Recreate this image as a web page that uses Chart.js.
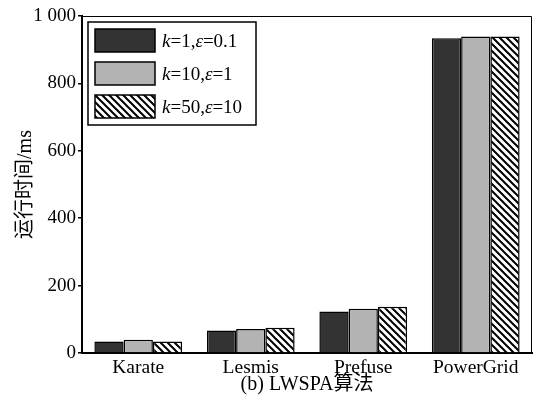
<!DOCTYPE html>
<html>
<head>
<meta charset="utf-8">
<script src="https://cdn.jsdelivr.net/npm/chart.js@4/dist/chart.umd.min.js"></script>
<style>
  html, body { margin: 0; padding: 0; background: #fff; }
  #chart { display: block; }
</style>
</head>
<body>
<canvas id="chart" width="533" height="400"></canvas>
<script>
const categories = ["Karate", "Lesmis", "Prefuse", "PowerGrid"];
const seriesLabels = ["k=1,ε=0.1", "k=10,ε=1", "k=50,ε=10"];
const runK1 = [34, 67, 123, 934];
const runK10 = [39, 71, 131, 939];
const runK50 = [34, 75, 137, 939];
const yTickLabels = ["0", "200", "400", "600", "800", "1 000"];

const SERIF = "'Liberation Serif', 'Noto Sans CJK SC', serif";

// diagonal hatch fill for the third series
function hatch() {
  const c = document.createElement("canvas");
  c.width = 7; c.height = 7;
  const g = c.getContext("2d");
  g.fillStyle = "#fff";
  g.fillRect(0, 0, 7, 7);
  g.strokeStyle = "#000";
  g.lineWidth = 2;
  g.beginPath();
  for (const o of [-7, 0, 7]) {
    g.moveTo(o - 1, -1);
    g.lineTo(o + 8, 8);
  }
  g.stroke();
  return g.createPattern(c, "repeat");
}

const fills = ["#333333", "#b3b3b3", hatch()];

// plot frame: thin top/right edges
const framePlugin = {
  id: "frame",
  afterDraw(chart) {
    const { ctx, chartArea: a } = chart;
    ctx.save();
    ctx.strokeStyle = "#000";
    ctx.lineWidth = 1;
    ctx.beginPath();
    ctx.moveTo(a.left, a.top + 0.5);
    ctx.lineTo(a.right - 0.5, a.top + 0.5);
    ctx.lineTo(a.right - 0.5, a.bottom);
    ctx.stroke();
    ctx.restore();
  },
};

// boxed legend in the upper left, k and ε set in italics
const legendPlugin = {
  id: "boxLegend",
  afterDraw(chart) {
    const { ctx, chartArea: a } = chart;
    const x0 = a.left + 6, y0 = a.top + 6;
    ctx.save();
    ctx.fillStyle = "#fff";
    ctx.fillRect(x0, y0, 168, 103);
    ctx.strokeStyle = "#000";
    ctx.lineWidth = 1.5;
    ctx.strokeRect(x0, y0, 168, 103);
    chart.data.datasets.forEach((ds, i) => {
      const sy = y0 + 7 + i * 33;
      ctx.fillStyle = ds.backgroundColor;
      ctx.fillRect(x0 + 7, sy, 60, 23);
      ctx.lineWidth = 1.5;
      ctx.strokeRect(x0 + 7, sy, 60, 23);
      let tx = x0 + 74;
      ctx.fillStyle = "#000";
      ctx.textBaseline = "alphabetic";
      for (const ch of ds.label) {
        const it = ch === "k" || ch === "ε";
        ctx.font = (it ? "italic " : "") + "19px 'Liberation Serif', serif";
        ctx.fillText(ch, tx, sy + 18);
        tx += ctx.measureText(ch).width;
      }
    });
    ctx.restore();
  },
};

new Chart(document.getElementById("chart"), {
  type: "bar",
  data: {
    labels: categories,
    datasets: [runK1, runK10, runK50].map((d, i) => ({
      label: seriesLabels[i],
      data: d,
      backgroundColor: fills[i],
      borderColor: "#000",
      borderWidth: 1.5,
      barPercentage: 1,
      categoryPercentage: 0.78,
    })),
  },
  options: {
    responsive: false,
    animation: false,
    layout: { padding: { top: 16, right: 1, left: 0, bottom: 0 } },
    plugins: { legend: { display: false }, tooltip: { enabled: false } },
    scales: {
      x: {
        grid: { display: false, drawTicks: false },
        border: { display: true, color: "#000", width: 2 },
        ticks: { color: "#000", padding: 3, font: { family: SERIF, size: 19.5 } },
        title: {
          display: true,
          text: "(b) LWSPA算法",
          color: "#000",
          font: { family: SERIF, size: 20 },
          padding: { top: 3, bottom: 3 },
        },
        afterFit: s => { s.height = 47; },
      },
      y: {
        min: 0,
        max: 1000,
        grid: { display: true, drawOnChartArea: false, drawTicks: true, tickLength: 4, color: "#000", lineWidth: 1.5 },
        border: { display: true, color: "#000", width: 2 },
        ticks: {
          stepSize: 200,
          color: "#000",
          padding: 2,
          font: { family: SERIF, size: 19 },
          callback: (v, i) => yTickLabels[i],
        },
        title: {
          display: true,
          text: "运行时间/ms",
          color: "#000",
          font: { family: SERIF, size: 20 },
          padding: { top: 14, bottom: 0 },
        },
        afterFit: s => { s.width = 82; },
      },
    },
  },
  plugins: [framePlugin, legendPlugin],
});
</script>
</body>
</html>
